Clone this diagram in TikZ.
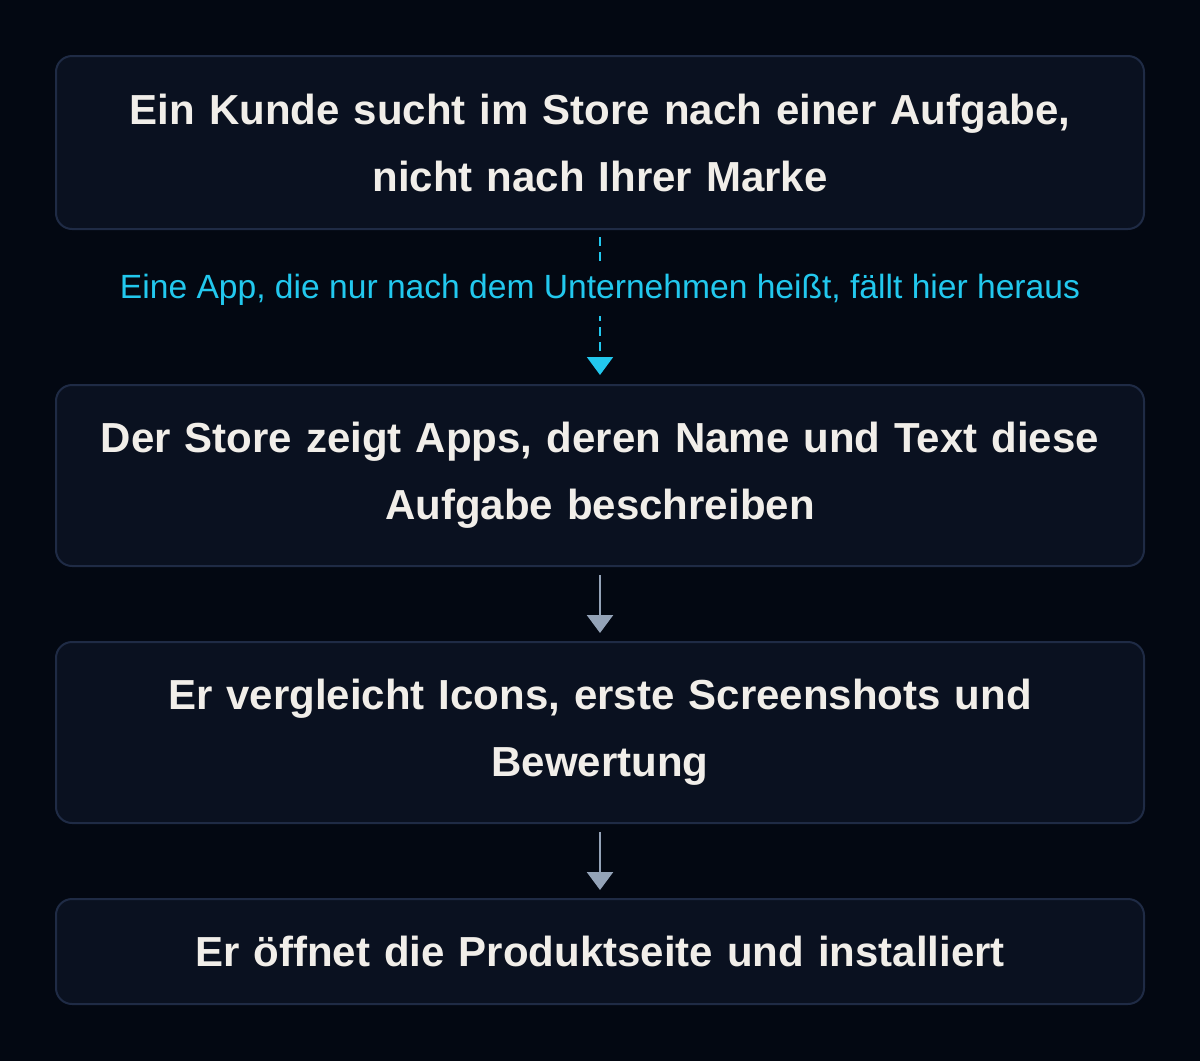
\documentclass[tikz,border=0pt]{standalone}
\usepackage{fontspec}
\setmainfont{Liberation Sans}
\usepackage{tikz}
\usetikzlibrary{positioning}
\usetikzlibrary{arrows.meta}
\usetikzlibrary{backgrounds}
\definecolor{bgdark}{HTML}{030812}
\definecolor{boxfill}{HTML}{0A1120}
\definecolor{boxline}{HTML}{1F2B45}
\definecolor{txtwhite}{HTML}{F1EEE9}
\definecolor{hintcyan}{HTML}{22C8EE}
\definecolor{flowgray}{HTML}{94A3B8}
\tikzset{stepbox/.style={rounded corners=16pt,draw=boxline,line width=2pt,fill=boxfill,
  minimum width=1088pt,text width=1060pt,align=center,text=txtwhite,
  font=\fontsize{42}{67}\selectfont\bfseries},
  flowarrow/.style={draw=flowgray,line width=2.5pt,-{Triangle[length=18pt,width=26pt]},shorten <=8pt,shorten >=8pt},
  hintarrow/.style={draw=hintcyan,line width=2pt,dash pattern=on 9pt off 6pt,-{Triangle[length=18pt,width=26pt]},shorten <=7pt,shorten >=9pt}}

\begin{document}
\begin{tikzpicture}[x=1pt,y=-1pt]
\fill[bgdark] (0,0) rectangle (1200,1061);
\useasboundingbox (0,0) rectangle (1200,1061);

\node (search) at (600,142.5) [stepbox,minimum height=173pt] {Ein Kunde sucht im Store nach einer Aufgabe,\\nicht nach Ihrer Marke};
\node (results) at (600,475.5) [stepbox,minimum height=181pt] {Der Store zeigt Apps, deren Name und Text diese\\Aufgabe beschreiben};
\node (compare) at (600,732.5) [stepbox,minimum height=181pt] {Er vergleicht Icons, erste Screenshots und\\Bewertung};
\node (install) at (600,951.5) [stepbox,minimum height=105pt] {Er öffnet die Produktseite und installiert};

%\node (hint) at (600,287) {};
\draw[hintarrow] (search) -- node (hint) [pos=0.39,fill=bgdark,text=hintcyan,font=\fontsize{33.6}{38}\selectfont,inner sep=10pt] {Eine App, die nur nach dem Unternehmen heißt, fällt hier heraus} (results);
\draw[flowarrow] (results) -- (compare);
\draw[flowarrow] (compare) -- (install);
\end{tikzpicture}
\end{document}
